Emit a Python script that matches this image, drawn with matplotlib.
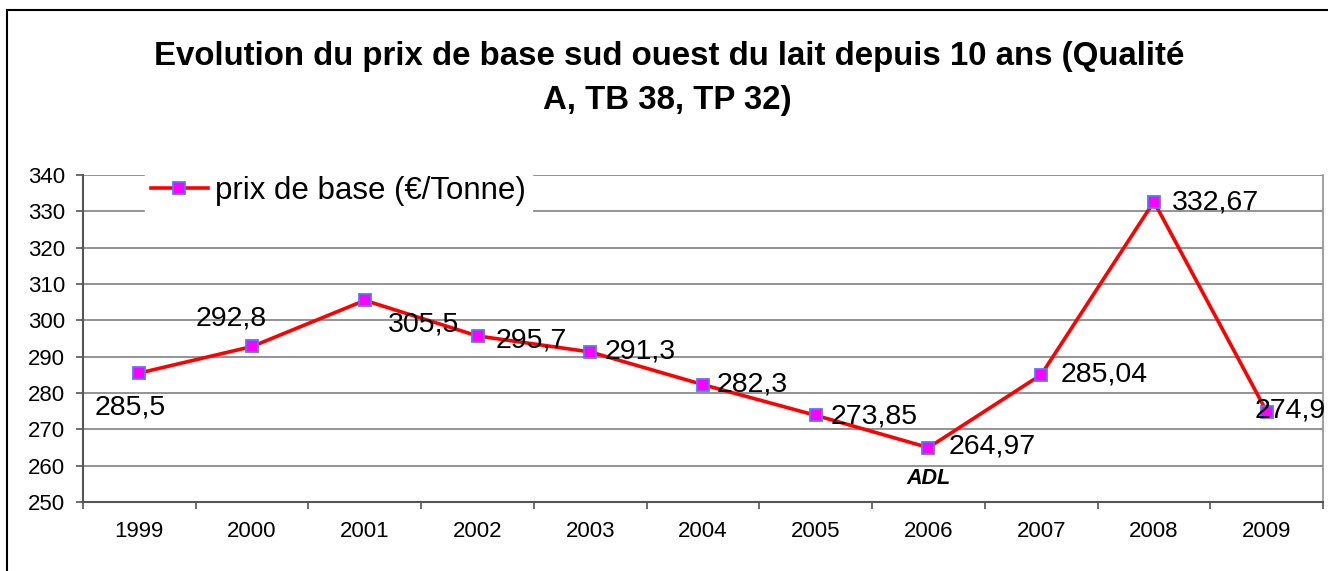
import matplotlib
matplotlib.use("Agg")
import matplotlib.pyplot as plt
from matplotlib.lines import Line2D

plt.rcParams['font.family'] = ['Liberation Sans', 'DejaVu Sans']

# data
years = ['1999', '2000', '2001', '2002', '2003', '2004', '2005', '2006', '2007', '2008', '2009']
prix = [285.5, 292.8, 305.5, 295.7, 291.3, 282.3, 273.85, 264.97, 285.04, 332.67, 274.9]
labels = ['285,5', '292,8', '305,5', '295,7', '291,3', '282,3', '273,85', '264,97', '285,04', '332,67', '274,9']
yticks = [250, 260, 270, 280, 290, 300, 310, 320, 330, 340]

# label placement (pixels from the point) and alignment
offsets = [(-9, -34), (-21, 28), (23, -24), (18, -5), (14, 0), (14, 0),
           (15, -1), (20, 1), (19, 0), (18, -1), (-12, 1)]
aligns = ['center', 'center', 'left', 'left', 'left', 'left',
          'left', 'left', 'left', 'left', 'left']

fig = plt.figure(figsize=(13.28, 5.71), dpi=100)
ax = fig.add_axes([83/1328, 69/571, 1240/1328, 327/571])

x = list(range(len(years)))
ax.plot(x, prix, color='#ff0000', linewidth=2.6, marker='s', markersize=9,
        markerfacecolor='#ff00ff', markeredgecolor='#5577ff', markeredgewidth=1.3,
        label='prix de base (€/Tonne)', zorder=3)

for i in x:
    ax.annotate(labels[i], (i, prix[i]), xytext=offsets[i], textcoords='offset pixels',
                ha=aligns[i], va='center', fontsize=20.5, color='black', zorder=4,
                annotation_clip=False)

ax.annotate('ADL', (7, prix[7]), xytext=(0, -31), textcoords='offset pixels',
            ha='center', va='center', fontsize=15.5, fontweight='bold', fontstyle='italic')

ax.set_xlim(-0.5, len(years) - 0.5)
ax.set_ylim(250, 340)
ax.set_yticks(yticks)
ax.set_yticklabels([str(v) for v in yticks], fontsize=16)
ax.set_xticks(x)
ax.set_xticklabels(years, fontsize=16)
ax.set_xticks([i - 0.5 for i in range(len(years) + 1)], minor=True)
ax.tick_params(axis='x', which='major', length=0, pad=14)
ax.tick_params(axis='x', which='minor', length=5, width=1.2, color='#555555')
ax.tick_params(axis='y', length=5, width=1.2, color='#555555', pad=8)

ax.grid(axis='y', color='#808080', linewidth=1.2)
ax.set_axisbelow(True)
for s in ['left', 'bottom']:
    ax.spines[s].set_color('#555555')
    ax.spines[s].set_linewidth(1.5)
ax.spines['top'].set_visible(False)
ax.spines['right'].set_color('#909090')
ax.spines['right'].set_linewidth(1.2)

leg = ax.legend(loc='upper left', bbox_to_anchor=(0.05, 1.016), fontsize=22.5,
                frameon=True, fancybox=False, edgecolor='white', framealpha=1,
                handlelength=1.8, handletextpad=0.25, borderpad=0.2, borderaxespad=0)
leg.set_zorder(5)

fig.text(669/1328, 1 - 56/571, 'Evolution du prix de base sud ouest du lait depuis 10 ans (Qualité',
         ha='center', va='center', fontsize=23.8, fontweight='bold')
fig.text(667/1328, 1 - 100/571, 'A, TB 38, TP 32)',
         ha='center', va='center', fontsize=23.8, fontweight='bold')

# outer chart border (only top and left are visible in the frame)
fig.add_artist(Line2D([7/1328, 7/1328], [0, 1 - 10/571], transform=fig.transFigure,
                      color='black', linewidth=1.5))
fig.add_artist(Line2D([7/1328, 1], [1 - 10/571, 1 - 10/571], transform=fig.transFigure,
                      color='black', linewidth=1.5))

fig.savefig('out.png', dpi=100)
